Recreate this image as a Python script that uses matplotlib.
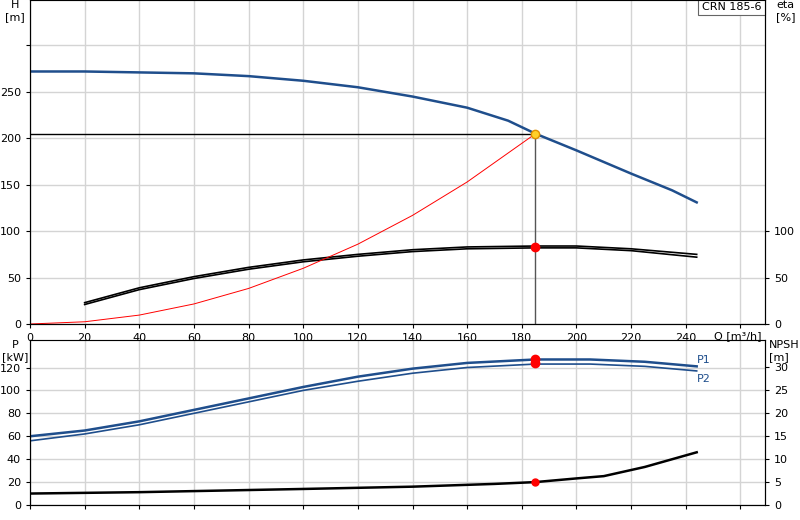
import matplotlib
matplotlib.use("Agg")
import matplotlib.pyplot as plt

q_h = [0, 20, 40, 60, 80, 100, 120, 140, 160, 175, 185, 200, 220, 235, 244]
h = [272, 272, 271, 270, 267, 262, 255, 245, 233, 219, 205, 187, 162, 144, 131]
q_eta = [20, 40, 60, 80, 100, 120, 140, 160, 185, 200, 220, 244]
eta1 = [23, 39, 51, 61, 69, 75, 80, 83, 84, 84, 81, 75]
eta2 = [21, 37, 49, 59, 67, 73, 78, 81, 82, 82, 79, 72]
q_sys = [0, 20, 40, 60, 80, 100, 120, 140, 160, 185]
h_sys = [0, 2.4, 9.6, 21.6, 38.3, 60, 86, 117, 153, 205]
q_p = [0, 20, 40, 60, 80, 100, 120, 140, 160, 185, 205, 225, 244]
p1 = [60, 65, 73, 83, 93, 103, 112, 119, 124, 127, 127, 125, 121]
p2 = [56, 62, 70, 80, 90, 100, 108, 115, 120, 123, 123, 121, 117]
q_n = [0, 40, 100, 140, 170, 185, 200, 210, 225, 244]
npsh = [2.5, 2.8, 3.5, 4.0, 4.6, 5.0, 5.8, 6.3, 8.3, 11.5]
q_op, h_op, eta_op, p1_op, p2_op, n_op = 185, 205, 83, 127, 124, 5

BLUE = "#1f4e8c"
GRID = "#d4d4d4"
W, H_ = 800, 520
fig = plt.figure(figsize=(8, 5.2), dpi=100)
bx = fig.add_axes([30 / W, 1 - 505 / H_, 735 / W, 165 / H_])
ax = fig.add_axes([30 / W, 1 - 324 / H_, 735 / W, 324 / H_])

for a in (ax, bx):
    a.set_xlim(0, 269)
    a.set_xticks(range(0, 261, 20))
    a.grid(True, color=GRID, lw=1)
    a.set_axisbelow(True)
    a.spines["top"].set_color("#999999")
    a.tick_params(labelsize=8, length=3)

ax.set_ylim(0, 349)
ax.set_yticks(range(0, 301, 50))
ax.set_yticklabels(["0", "50", "100", "150", "200", "250", ""])
ax.set_xticklabels([str(v) for v in range(0, 241, 20)] + [""])
ax.text(0.995, -0.038, "Q [m³/h]", transform=ax.transAxes, ha="right", va="center", fontsize=8)
ax.text(-0.02, 1.0, "H\n[m]", transform=ax.transAxes, ha="center", va="top", fontsize=8)
ax2 = ax.twinx()
ax2.set_ylim(0, 349)
ax2.set_yticks([0, 50, 100])
ax2.tick_params(labelsize=8, length=3)
ax2.text(1.015, 1.0, "eta\n[%]", transform=ax.transAxes, ha="left", va="top", fontsize=8)

ax.plot(q_h, h, color=BLUE, lw=1.8)
ax.plot(q_eta, eta1, color="black", lw=1.2)
ax.plot(q_eta, eta2, color="black", lw=1.2)
ax.plot(q_sys, h_sys, color="red", lw=0.7)
ax.plot([0, q_op], [h_op, h_op], color="black", lw=1)
ax.plot([q_op, q_op], [0, h_op], color="#555555", lw=1)
ax.plot(q_op, h_op, "o", color="#ffd02a", mec="#e09000", ms=6, zorder=5)
ax.plot(q_op, eta_op, "o", color="red", ms=6, zorder=5)
ax.text(0.995, 0.995, "CRN 185-6", transform=ax.transAxes, ha="right", va="top", fontsize=8,
        bbox=dict(boxstyle="square,pad=0.3", fc="white", ec="#666666", lw=0.8))

bx.set_ylim(0, 144)
bx.set_yticks(range(0, 121, 20))
bx.set_xticklabels([])
bx.text(-0.02, 1.0, "P\n[kW]", transform=bx.transAxes, ha="center", va="top", fontsize=8)
bx2 = bx.twinx()
bx2.set_ylim(0, 36)
bx2.set_yticks(range(0, 31, 5))
bx2.tick_params(labelsize=8, length=3)
bx2.text(1.005, 1.0, "NPSH\n[m]", transform=bx.transAxes, ha="left", va="top", fontsize=8)
bx.plot(q_p, p1, color=BLUE, lw=1.8)
bx.plot(q_p, p2, color=BLUE, lw=1.2)
bx.plot([q_op, q_op], [p1_op, p2_op], "o", color="red", ms=6, zorder=5)
bx.text(q_p[-1], p1[-1] + 3, "P1", color=BLUE, fontsize=8)
bx.text(q_p[-1], p2[-1] - 3, "P2", color=BLUE, fontsize=8, va="top")
bx2.plot(q_n, npsh, color="black", lw=1.8)
bx2.plot(q_op, n_op, "o", color="red", ms=5, zorder=5)

fig.savefig("out.png", dpi=100)
